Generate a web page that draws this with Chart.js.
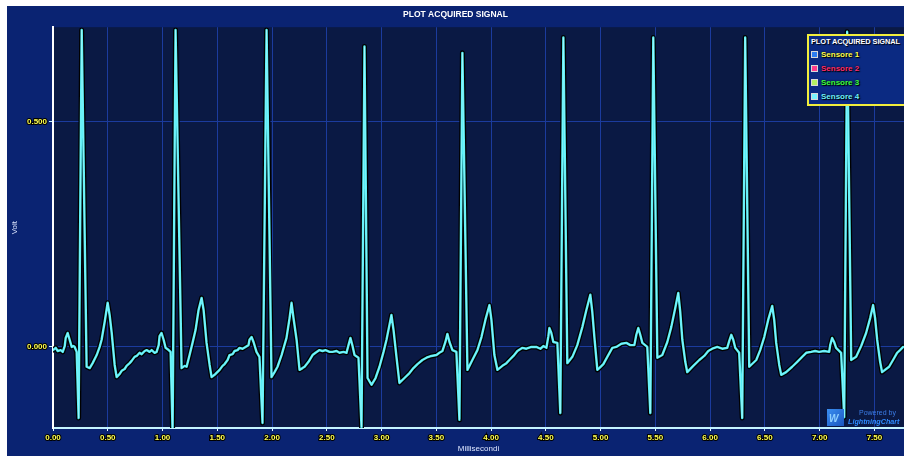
<!DOCTYPE html>
<html lang="it">
<head>
<meta charset="UTF-8">
<title>Plot Acquired Signal</title>
<script src="https://cdn.jsdelivr.net/npm/chart.js"></script>
<style>
  body, html {
    margin: 0;
    padding: 0;
    width: 904px;
    height: 456px;
    overflow: hidden;
    background: #fff;
    font-family: 'Liberation Sans', Arial, sans-serif;
  }
  .frame {
    position: absolute;
    left: 7px;
    top: 6px;
    width: 897px;
    height: 450px;
    background: #0a2372;
    overflow: hidden;
  }
  canvas { position: absolute; left: 0; top: 0; }
  .legend {
    position: absolute;
    left: 800px;
    top: 28px;
    width: 112px;
    height: 72px;
    box-sizing: border-box;
    border: 2px solid #f2ee3c;
    background: #0b2a82;
    padding: 0 0 0 2px;
  }
  .legend-title {
    color: #fff;
    font-size: 7.4px;
    font-weight: bold;
    line-height: 11px;
    white-space: nowrap;
    letter-spacing: -0.1px;
    text-shadow: 1px 1px 1px #000;
  }
  .legend-item {
    display: flex;
    align-items: center;
    height: 14px;
    font-size: 8px;
    font-weight: bold;
    white-space: nowrap;
    text-shadow: 0 0 2px #000, 1px 1px 1px #000;
  }
  .legend-box {
    width: 5px;
    height: 5px;
    border: 1px solid #d8d8d8;
    margin-right: 3px;
  }
  .brand {
    position: absolute;
    left: 820px;
    top: 403px;
    width: 80px;
    height: 20px;
  }
  .brand .logo {
    position: absolute;
    left: 0;
    top: 0;
    width: 17px;
    height: 17px;
    background: linear-gradient(135deg, #3a8ef0, #1a56c0);
  }
  .brand .logo span {
    position: absolute;
    left: 2px;
    top: 4px;
    font-size: 10px;
    font-weight: bold;
    font-style: italic;
    color: #8fd0ff;
    letter-spacing: -2px;
  }
  .brand .p1 {
    position: absolute;
    left: 32px;
    top: 0;
    font-size: 7px;
    color: #3c7de6;
    white-space: nowrap;
  }
  .brand .p2 {
    position: absolute;
    left: 21px;
    top: 8px;
    font-size: 7.2px;
    font-weight: bold;
    font-style: italic;
    color: #2f8cff;
    white-space: nowrap;
  }
</style>
</head>
<body>
<div class="frame">
  <canvas id="signalChart" width="897" height="450"></canvas>
  <div class="legend" id="legend"></div>
  <div class="brand">
    <div class="logo"><span>W</span></div>
    <div class="p1">Powered by</div>
    <div class="p2">LightningChart</div>
  </div>
</div>
<script>
  // Sensore 4 trace (ms, V)
  const timeMs = [
    0.000, 0.025, 0.043, 0.070, 0.089, 0.107, 0.116, 0.134, 0.152, 0.171, 0.189, 0.198, 0.216, 0.234, 0.262, 0.307,
    0.335, 0.362, 0.399, 0.426, 0.444, 0.472, 0.499, 0.517, 0.536, 0.563, 0.581, 0.609, 0.627, 0.654, 0.672, 0.700,
    0.718, 0.745, 0.764, 0.791, 0.809, 0.837, 0.855, 0.882, 0.901, 0.928, 0.946, 0.965, 0.973, 0.991, 1.010, 1.028,
    1.056, 1.074, 1.092, 1.119, 1.174,
    1.202, 1.220, 1.247, 1.274, 1.302, 1.329, 1.357, 1.375, 1.402, 1.430, 1.448, 1.484, 1.521, 1.548, 1.567, 1.594,
    1.612, 1.640, 1.658, 1.685, 1.703, 1.731, 1.758, 1.785, 1.794, 1.813, 1.831, 1.858, 1.885, 1.913, 1.950, 1.995,
    2.023, 2.050, 2.087, 2.132, 2.160, 2.178, 2.196, 2.224, 2.251, 2.278, 2.297, 2.333, 2.370, 2.397, 2.433, 2.461,
    2.488, 2.525, 2.552, 2.589, 2.616, 2.653, 2.680, 2.698, 2.716, 2.735, 2.753, 2.789, 2.817, 2.844, 2.872, 2.908,
    2.945, 2.981, 3.018, 3.045, 3.072, 3.090, 3.109, 3.136, 3.163, 3.209, 3.255, 3.291, 3.328, 3.373, 3.410, 3.455,
    3.501, 3.528, 3.556, 3.583, 3.601, 3.620, 3.647, 3.683, 3.711, 3.738, 3.784,
    3.829, 3.875, 3.912, 3.948, 3.985, 4.003, 4.030, 4.058, 4.103, 4.140, 4.167, 4.204, 4.240, 4.286, 4.322, 4.368,
    4.413, 4.450, 4.477, 4.505, 4.523, 4.532, 4.550, 4.568, 4.605, 4.632, 4.660, 4.696,
    4.742, 4.787, 4.833, 4.870, 4.906, 4.924, 4.943, 4.970, 4.988, 5.025, 5.061, 5.107, 5.143, 5.189, 5.235, 5.271,
    5.308, 5.326, 5.344, 5.362, 5.381, 5.426, 5.454, 5.481, 5.518,
    5.563, 5.609, 5.645, 5.682, 5.709, 5.727, 5.746, 5.773, 5.791, 5.846, 5.901, 5.946, 5.983, 6.019, 6.065, 6.110,
    6.156, 6.174, 6.193, 6.211, 6.229, 6.265, 6.293, 6.320, 6.357,
    6.421, 6.457, 6.494, 6.530, 6.567, 6.585, 6.603, 6.631, 6.649, 6.694, 6.749, 6.795, 6.840, 6.877, 6.922, 6.959,
    6.995, 7.041, 7.087, 7.096, 7.114, 7.132, 7.150, 7.196, 7.224, 7.251, 7.288,
    7.333, 7.379, 7.424, 7.461, 7.488, 7.506, 7.525, 7.552, 7.570, 7.607, 7.634, 7.670, 7.707, 7.734, 7.762
  ];
  const sensore4 = [
    -0.007, -0.002, -0.009, -0.007, -0.011, 0.002, 0.020, 0.031, 0.016, 0.000, 0.002, 0.000, -0.011, -0.158, 0.704, -0.044,
    -0.047, -0.036, -0.018, 0.000, 0.016, 0.056, 0.098, 0.071, 0.031, -0.040, -0.067, -0.060, -0.053, -0.049, -0.042, -0.036,
    -0.031, -0.022, -0.020, -0.013, -0.016, -0.009, -0.007, -0.011, -0.007, -0.013, -0.011, 0.004, 0.024, 0.031, 0.016, -0.002,
    -0.007, -0.011, -0.189, 0.704, -0.047,
    -0.042, -0.044, -0.018, 0.009, 0.038, 0.082, 0.109, 0.082, 0.009, -0.040, -0.067, -0.060, -0.051, -0.042, -0.038, -0.029,
    -0.018, -0.016, -0.009, -0.007, -0.002, -0.004, 0.000, 0.004, 0.016, 0.022, 0.011, -0.011, -0.022, -0.169, 0.704, -0.067,
    -0.056, -0.044, -0.018, 0.020, 0.064, 0.098, 0.064, 0.016, -0.051, -0.047, -0.044, -0.033, -0.018, -0.013, -0.007, -0.009,
    -0.007, -0.011, -0.011, -0.009, -0.013, -0.011, -0.013, 0.004, 0.020, 0.002, -0.018, -0.024, -0.178, 0.667, -0.069, -0.084,
    -0.069, -0.044, -0.011, 0.016, 0.049, 0.071, 0.038, -0.022, -0.080, -0.069, -0.058, -0.047, -0.038, -0.029, -0.024, -0.020,
    -0.018, -0.013, -0.009, 0.011, 0.029, 0.011, -0.007, -0.011, -0.162, 0.653, -0.051,
    -0.029, -0.007, 0.022, 0.060, 0.093, 0.060, -0.018, -0.051, -0.042, -0.036, -0.029, -0.020, -0.009, -0.002, -0.004, 0.000,
    0.000, -0.004, 0.002, -0.002, 0.024, 0.042, 0.031, 0.011, 0.009, -0.147, 0.687, -0.036,
    -0.022, 0.004, 0.044, 0.082, 0.116, 0.078, 0.022, -0.051, -0.047, -0.038, -0.022, -0.002, 0.000, 0.007, 0.009, 0.004,
    0.004, 0.027, 0.042, 0.027, 0.009, 0.000, -0.147, 0.687, -0.024,
    -0.018, 0.011, 0.044, 0.087, 0.120, 0.078, 0.016, -0.033, -0.056, -0.042, -0.029, -0.020, -0.009, -0.004, 0.000, -0.004,
    -0.002, 0.013, 0.027, 0.016, -0.002, -0.013, -0.158, 0.687, -0.044,
    -0.029, -0.007, 0.022, 0.060, 0.091, 0.060, 0.009, -0.040, -0.062, -0.056, -0.044, -0.033, -0.022, -0.013, -0.011, -0.009,
    -0.011, -0.009, -0.011, 0.004, 0.020, 0.011, -0.002, -0.013, -0.156, 0.700, -0.029,
    -0.022, 0.002, 0.031, 0.064, 0.093, 0.064, 0.016, -0.033, -0.056, -0.049, -0.044, -0.029, -0.013, -0.007, 0.000
  ];

  const seriesNames = ['Sensore 1', 'Sensore 2', 'Sensore 3', 'Sensore 4'];
  const seriesTextColors = ['#ffff4c', '#ff2c6c', '#3cff3c', '#6ef0ff'];
  const seriesBoxColors = ['#2c7cf0', '#ff3c8c', '#b4f064', '#78f4ff'];

  const xTickStep = 0.5;
  const yTickStep = 0.5;

  // legend box
  const legend = document.getElementById('legend');
  let html = '<div class="legend-title">PLOT ACQUIRED SIGNAL</div>';
  seriesNames.forEach(function(name, i) {
    html += '<div class="legend-item" style="color:' + seriesTextColors[i] + '">' +
      '<span class="legend-box" style="background:' + seriesBoxColors[i] + '"></span>' + name + '</div>';
  });
  legend.innerHTML = html;

  const points = timeMs.map(function(t, i) { return { x: t, y: sensore4[i] }; });

  const plotBg = {
    id: 'plotBg',
    beforeDraw(chart) {
      const a = chart.chartArea;
      const c = chart.ctx;
      c.save();
      c.fillStyle = '#0a1944';
      c.fillRect(a.left, a.top, a.right - a.left, a.bottom - a.top);
      c.restore();
    }
  };

  const tickFont = { family: "'Liberation Sans', Arial, sans-serif", size: 8, weight: 'bold' };
  const titleFont = { family: "'Liberation Sans', Arial, sans-serif", size: 8 };
  const lineStyle = { pointRadius: 0, borderJoinStyle: 'round', borderCapStyle: 'round' };

  new Chart(document.getElementById('signalChart'), {
    type: 'line',
    data: {
      datasets: [
        Object.assign({ label: 'outline', data: points, borderColor: '#000', borderWidth: 5, order: 3 }, lineStyle),
        Object.assign({ label: seriesNames[3], data: points, borderColor: '#52eef6', borderWidth: 2.4, order: 2 }, lineStyle),
        Object.assign({ label: 'core', data: points, borderColor: 'rgba(220,255,255,0.6)', borderWidth: 0.6, order: 1 }, lineStyle)
      ]
    },
    options: {
      responsive: false,
      animation: false,
      devicePixelRatio: 1,
      layout: { padding: 0 },
      plugins: {
        legend: { display: false },
        tooltip: { enabled: false },
        title: {
          display: true,
          text: 'PLOT ACQUIRED SIGNAL',
          color: '#ffffff',
          font: { family: "'Liberation Sans', Arial, sans-serif", size: 8.5, weight: 'bold' },
          padding: { top: 4, bottom: 7 }
        }
      },
      scales: {
        x: {
          type: 'linear',
          min: 0,
          max: 7.77,
          afterFit(scale) { scale.height = 28; },
          border: { color: '#c4f4ff', width: 2 },
          grid: { color: '#1b3b9e', tickColor: '#e8ffff', tickLength: 3 },
          ticks: {
            stepSize: xTickStep,
            includeBounds: false,
            maxRotation: 0,
            padding: 2,
            color: '#ffff50',
            textStrokeColor: '#000',
            textStrokeWidth: 2,
            font: tickFont,
            callback: function(v) { return v.toFixed(2); }
          },
          title: {
            display: true,
            text: 'Millisecondi',
            color: '#dde6ff',
            font: titleFont,
            padding: { top: 0, bottom: 2 }
          }
        },
        y: {
          min: -0.18,
          max: 0.71,
          afterFit(scale) { scale.width = 46; },
          border: { color: '#ffffff', width: 2 },
          grid: { color: '#1b3b9e', tickColor: '#c4f4ff', tickLength: 4 },
          ticks: {
            stepSize: yTickStep,
            includeBounds: false,
            padding: 2,
            color: '#ffff50',
            textStrokeColor: '#000',
            textStrokeWidth: 2,
            font: tickFont,
            callback: function(v) { return v.toFixed(3); }
          },
          title: {
            display: true,
            text: 'Volt',
            color: '#dde6ff',
            font: titleFont,
            padding: { top: 3, bottom: 0 }
          }
        }
      }
    },
    plugins: [plotBg]
  });
</script>
</body>
</html>
